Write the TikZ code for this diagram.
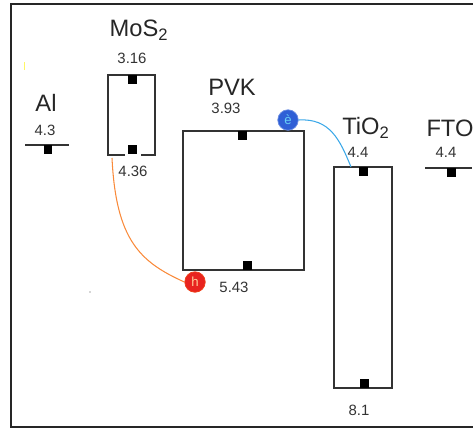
\documentclass[tikz,border=0pt]{standalone}
\usepackage{fontspec}
\setmainfont{Liberation Sans}
\usetikzlibrary{arrows.meta}
\definecolor{numgray}{HTML}{333333}
\definecolor{eblue}{HTML}{2F5FD6}
\definecolor{hred}{HTML}{E8231F}
\definecolor{wireblue}{HTML}{3BA8E8}
\definecolor{wireorange}{HTML}{F98A3A}
\tikzset{
  every picture/.style={line join=miter, line cap=butt},
  layer/.style={font=\fontsize{13.5}{15}\selectfont, text=black!85},
  level/.style={font=\fontsize{8.5}{9}\selectfont, text=numgray},
  edge/.style={line width=0.8pt, black!80},
  statesq/.style={fill=black, inner sep=0pt, minimum size=0.18cm},
  carrier/.style={circle, inner sep=0pt, minimum size=0.41cm, font=\fontsize{7.5}{7.5}\selectfont},
}

\begin{document}
\begin{tikzpicture}[x=0.02cm,y=-0.02cm]
\useasboundingbox (0,0) rectangle (473,430);
% frame (right side cut off)
\draw[line width=1.2pt,black!85] (473,4)--(11,4)--(11,427)--(473,427);

% Al
\node[layer] (al) at (46,103) {Al};
\node[level] (alv) at (45,130) {4.3};
\draw[edge] (25,145)--(69,145);
\node[statesq,anchor=north] (alsq) at (48,145) {};

% MoS2
\node[layer] (mos) at (139,30) {MoS\textsubscript{2}};
\node[level] (mosc) at (132,58) {3.16};
\node[level] (mosv) at (133,171) {4.36};
\draw[edge] (125,155)--(108,155)--(108,75)--(155,75)--(155,155)--(141,155);
\node[statesq,anchor=north] (mostop) at (132.5,75) {};
\node[statesq,anchor=south] (mosbot) at (132.5,154) {};
\coordinate (hstart) at (112,158);

% PVK
\node[layer] (pvk) at (232,87) {PVK};
\node[level] (pvkc) at (226,108) {3.93};
\node[level] (pvkv) at (234,287) {5.43};
\draw[edge] (183,131) rectangle (304,270);
\node[statesq,anchor=north] (pvktop) at (242.5,131) {};
\node[statesq,anchor=south] (pvkbot) at (247.5,270) {};

% TiO2
\node[layer] (tio) at (366,128) {TiO\textsubscript{2}};
\node[level] (tioc) at (358,152) {4.4};
\node[level] (tiov) at (359,410) {8.1};
\draw[edge] (334,167) rectangle (392,388);
\node[statesq,anchor=north] (tiotop) at (363,167) {};
\node[statesq,anchor=south] (tiobot) at (364,388) {};
\coordinate (eend) at (351,167);

% FTO
\node[layer] (fto) at (450,128) {FTO};
\node[level] (ftov) at (446,152) {4.4};
\draw[edge] (425,168)--(472,168);
\node[statesq,anchor=north] (ftosq) at (451,168) {};

% carriers
\node[carrier,fill=eblue,draw=eblue!70!white,text=cyan!60!white] (elec) at (288,120) {è};
\node[carrier,fill=hred,draw=hred!70!orange,text=orange!40!white] (hole) at (195,282) {h};
\draw[wireblue,line width=0.6pt] (elec.east) .. controls (330,118) and (340,140) .. (eend);
\draw[wireorange,line width=0.6pt] (hstart) .. controls (116,240) and (140,262) .. (hole.west);

% stray marks
\fill[yellow!60] (23.5,62) rectangle (24.5,70);
\fill[black!70] (90,292) circle (0.6);
\end{tikzpicture}
\end{document}
